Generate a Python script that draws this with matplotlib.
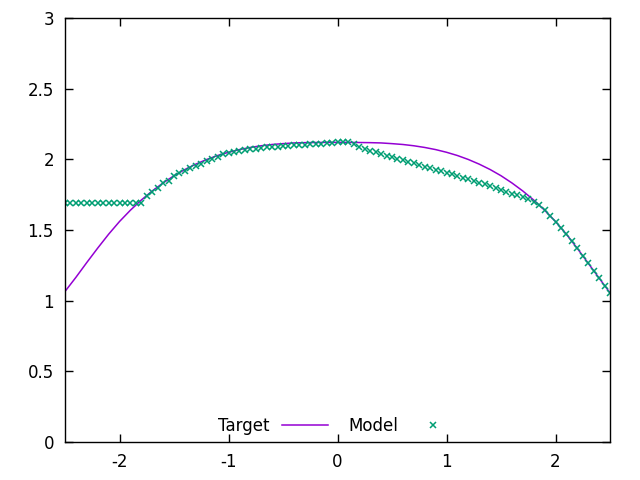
import numpy as np
import matplotlib
matplotlib.use("Agg")
import matplotlib.pyplot as plt
from matplotlib.ticker import FuncFormatter, MultipleLocator

# purple curve ("Target"), sampled every 0.1
target_x = np.round(np.arange(-2.5, 2.5001, 0.1), 2)
target_y = [1.065, 1.165, 1.27, 1.372, 1.47, 1.56, 1.64, 1.712, 1.776, 1.833,
            1.884, 1.928, 1.966, 1.999, 2.027, 2.050, 2.069, 2.084, 2.096, 2.105,
            2.111, 2.116, 2.118, 2.119, 2.120, 2.120,
            2.120, 2.119, 2.118, 2.116, 2.111, 2.105, 2.096, 2.084, 2.069, 2.050,
            2.027, 1.999, 1.966, 1.928, 1.884, 1.833, 1.776, 1.712, 1.64, 1.56,
            1.47, 1.37, 1.265, 1.16, 1.055]

# green crosses ("Model"), sampled every 0.05
model_x = np.round(np.arange(-2.5, 2.5001, 0.05), 2)
model_y = ([1.69] * 15 +
           [1.74, 1.77, 1.80, 1.83, 1.85, 1.88, 1.90, 1.92, 1.94, 1.955,
            1.97, 1.99, 2.005, 2.02, 2.035, 2.045, 2.05, 2.058, 2.065, 2.07,
            2.075, 2.08, 2.085, 2.088, 2.09, 2.093, 2.096, 2.098, 2.10, 2.103,
            2.105, 2.108, 2.11, 2.113, 2.116] +
           [2.12, 2.125, 2.12] +
           [2.105, 2.09, 2.075, 2.062, 2.05, 2.038, 2.026, 2.015, 2.004, 1.993,
            1.982, 1.971, 1.96, 1.949, 1.938, 1.927, 1.916, 1.905, 1.894, 1.882,
            1.87, 1.858, 1.846, 1.834, 1.822, 1.81, 1.797, 1.784, 1.771, 1.758,
            1.745, 1.731, 1.717, 1.70] +
           [1.676, 1.64, 1.60, 1.56, 1.517, 1.47, 1.42, 1.37, 1.318, 1.265,
            1.213, 1.16, 1.107, 1.055])

fig = plt.figure(figsize=(6.4, 4.8), dpi=100)
ax = fig.add_axes([65/640, 38/480, 545/640, 424/480])

ax.plot(target_x, target_y, color='#9400D3', lw=1.1, label='Target')
ax.plot(model_x, model_y, ls='none', marker='x', ms=5, mew=1.1,
        color='#009E73', label='Model')

ax.set_xlim(-2.5, 2.5)
ax.set_ylim(0, 3)
ax.xaxis.set_major_locator(MultipleLocator(1))
ax.yaxis.set_major_locator(MultipleLocator(0.5))
fmt = FuncFormatter(lambda v, p: '%g' % v)
ax.xaxis.set_major_formatter(fmt)
ax.yaxis.set_major_formatter(fmt)
ax.tick_params(direction='in', top=True, right=True, length=6, width=1,
               labelsize=12, pad=8)
for s in ax.spines.values():
    s.set_linewidth(1)

ax.legend(loc='lower center', bbox_to_anchor=(0.50, -0.019), ncol=2,
          frameon=False, markerfirst=False, fontsize=12, handlelength=2.8,
          columnspacing=1.2, handletextpad=0.7)

fig.savefig('out.png', dpi=100)
